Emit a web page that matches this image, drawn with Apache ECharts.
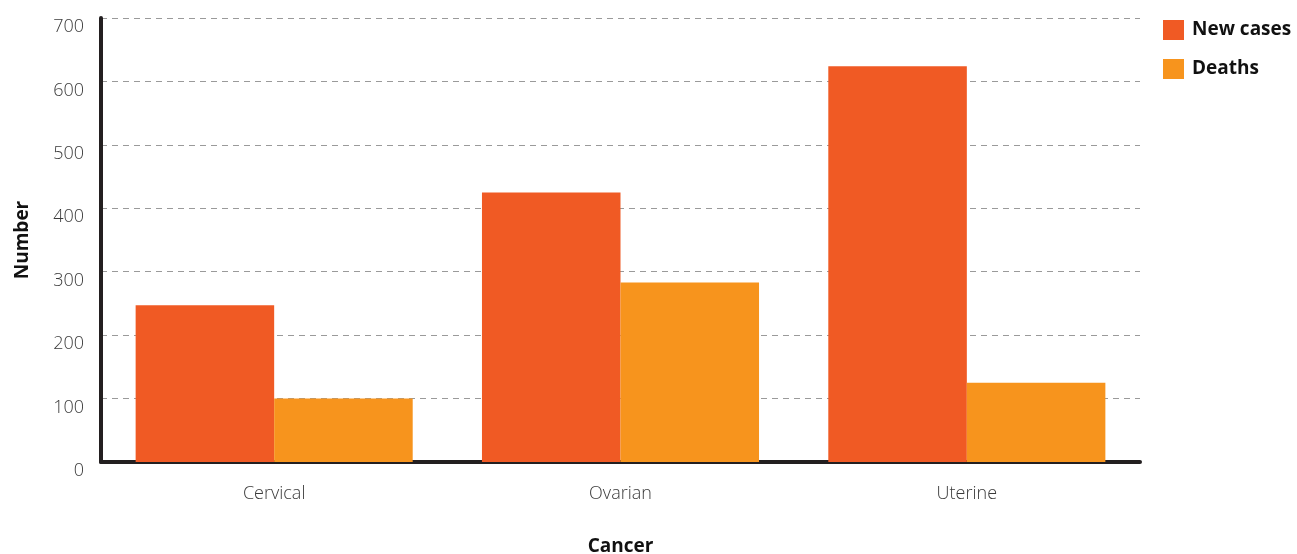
<!DOCTYPE html>
<html>
<head>
<meta charset="utf-8">
<script src="https://cdn.jsdelivr.net/npm/echarts@6/dist/echarts.min.js"></script>
<style>
html,body{margin:0;padding:0;background:#fff;}
#chart{width:1297px;height:554px;}
</style>
</head>
<body>
<div id="chart"></div>
<script>
const categories = ['Cervical', 'Ovarian', 'Uterine'];
const newCases = [247, 425, 624];
const deaths = [100, 283, 125];
const yTicks = [0, 100, 200, 300, 400, 500, 600, 700];

const chart = echarts.init(document.getElementById('chart'), null, {renderer: 'canvas'});
const font = '"Open Sans", "Noto Sans", sans-serif';
chart.setOption({
  animation: false,
  textStyle: {fontFamily: font},
  legend: {
    orient: 'vertical',
    left: 1158,
    top: 15,
    itemWidth: 21,
    itemHeight: 20,
    itemGap: 19,
    icon: 'rect',
    textStyle: {fontFamily: font, fontSize: 19, fontWeight: 'bold', color: '#111', padding: [0, 0, 0, 3]},
    data: ['New cases', 'Deaths']
  },
  grid: {left: 101, right: 157, top: 18, bottom: 92, containLabel: false, outerBoundsMode: 'none'},
  xAxis: {
    type: 'category',
    data: categories,
    name: 'Cancer',
    nameLocation: 'middle',
    nameGap: 75,
    nameTextStyle: {fontFamily: font, fontSize: 19, fontWeight: 'bold', color: '#111'},
    axisLine: {lineStyle: {color: '#231f20', width: 4}},
    axisTick: {show: false},
    axisLabel: {fontFamily: font, fontSize: 18, fontWeight: 300, color: '#3a3a3a', margin: 23}
  },
  yAxis: {
    type: 'value',
    min: yTicks[0],
    max: yTicks[yTicks.length - 1],
    interval: 100,
    name: 'Number',
    nameLocation: 'middle',
    nameGap: 69,
    nameTextStyle: {fontFamily: font, fontSize: 19, fontWeight: 'bold', color: '#111'},
    axisLine: {show: true, lineStyle: {color: '#231f20', width: 4}},
    axisTick: {show: false},
    axisLabel: {fontFamily: font, fontSize: 18, fontWeight: 300, color: '#3a3a3a', margin: 17, verticalAlign: 'top'},
    splitLine: {show: true, lineStyle: {color: '#9a9a9a', width: 1, type: [6, 5]}}
  },
  series: [
    {name: 'New cases', type: 'bar', data: newCases, itemStyle: {color: '#F05A24'}, barGap: '0%', barCategoryGap: '20%'},
    {name: 'Deaths', type: 'bar', data: deaths, itemStyle: {color: '#F7941D'}, barGap: '0%', barCategoryGap: '20%'}
  ]
});
</script>
</body>
</html>
